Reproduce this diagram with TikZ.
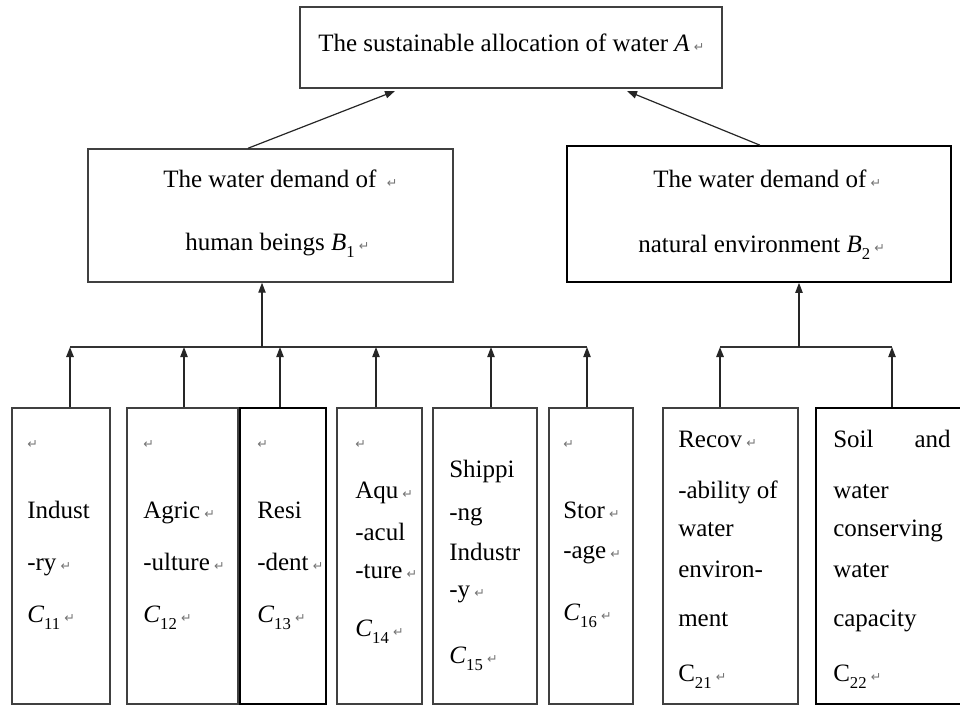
\documentclass[tikz,border=0pt]{standalone}
\usepackage{fontspec}
\setmainfont{Liberation Serif}
\newfontfamily\symfont{DejaVu Sans}
\usetikzlibrary{arrows.meta,fit}
\newcommand\rmkb{{\symfont\fontsize{9.5}{9.5}\selectfont\color{black!55}↵}}
\newcommand\rmk{\,\rmkb}
\newcommand\sbs[1]{\raisebox{-0.3em}{\fontsize{12.5}{12.5}\selectfont #1}}
\begin{document}
\begin{tikzpicture}[x=0.75pt,y=-0.75pt,
  font=\fontsize{18.75}{22}\selectfont,
  box/.style={draw=black!75,line width=1.1pt,inner sep=0pt},
  boxd/.style={draw=black,line width=1.2pt,inner sep=0pt},
  txt/.style={anchor=base west,inner sep=0pt},
  arr/.style={line width=0.9pt,draw=black!85,-{Triangle[length=7.5pt,width=5.5pt]}},
  arrk/.style={arr,line width=1.4pt},
  bus/.style={line width=0.9pt,draw=black!80}]
\useasboundingbox (0,0) rectangle (960,706);
\clip (0,0) rectangle (960,706);
% boxes
\node[box,fit={(300,7) (722,88)}] (A) {};
\node[box,fit={(88,149) (453,282)}] (B1) {};
\node[boxd,fit={(567,146) (951,282)}] (B2) {};
\node[box,fit={(12,408) (110,704)}] (C11) {};
\node[box,fit={(127,408) (238,704)}] (C12) {};
\node[boxd,fit={(240,408) (326,704)}] (C13) {};
\node[box,fit={(337,408) (422,704)}] (C14) {};
\node[box,fit={(433,408) (537,704)}] (C15) {};
\node[box,fit={(549,408) (633,704)}] (C16) {};
\node[box,fit={(663,408) (798,704)}] (C21) {};
\node[boxd,fit={(816,408) (968,704)}] (C22) {};
% texts
\node[txt] (At) at (318,52) {The sustainable allocation of water \textit{A}\rmk};
\node[txt] (B1a) at (163,188) {The water demand of \rmk};
\node[txt] (B1b) at (185,250) {human beings \textit{B}\sbs{1}\rmk};
\node[txt] (B2a) at (653,188) {The water demand of\rmk};
\node[txt] (B2b) at (638,252) {natural environment \textit{B}\sbs{2}\rmk};
% C11
\node[txt] (c11a) at (27,448) {\rmkb};
\node[txt] (c11b) at (27,518) {Indust};
\node[txt] (c11c) at (27,570) {-ry\rmk};
\node[txt] (c11d) at (27,622) {\textit{C}\sbs{11}\rmk};
% C12
\node[txt] (c12a) at (143,448) {\rmkb};
\node[txt] (c12b) at (143,518) {Agric\rmk};
\node[txt] (c12c) at (143,570) {-ulture\rmk};
\node[txt] (c12d) at (143,622) {\textit{C}\sbs{12}\rmk};
% C13
\node[txt] (c13a) at (257,448) {\rmkb};
\node[txt] (c13b) at (257,518) {Resi};
\node[txt] (c13c) at (257,570) {-dent\rmk};
\node[txt] (c13d) at (257,622) {\textit{C}\sbs{13}\rmk};
% C14
\node[txt] (c14a) at (355,448) {\rmkb};
\node[txt] (c14b) at (355,498) {Aqu\rmk};
\node[txt] (c14c) at (355,540) {-acul};
\node[txt] (c14d) at (355,578) {-ture\rmk};
\node[txt] (c14e) at (355,636) {\textit{C}\sbs{14}\rmk};
% C15
\node[txt] (c15a) at (449,477) {Shippi};
\node[txt] (c15b) at (449,520) {-ng};
\node[txt] (c15c) at (449,560) {Industr};
\node[txt] (c15d) at (449,597) {-y\rmk};
\node[txt] (c15e) at (449,663) {\textit{C}\sbs{15}\rmk};
% C16
\node[txt] (c16a) at (563,448) {\rmkb};
\node[txt] (c16b) at (563,518) {Stor\rmk};
\node[txt] (c16c) at (563,558) {-age\rmk};
\node[txt] (c16d) at (563,620) {\textit{C}\sbs{16}\rmk};
% C21
\node[txt] (c21a) at (678,447) {Recov\rmk};
\node[txt] (c21b) at (678,498) {-ability of};
\node[txt] (c21c) at (678,536) {water};
\node[txt] (c21d) at (678,577) {environ-};
\node[txt] (c21e) at (678,626) {ment};
\node[txt] (c21f) at (678,681) {C\sbs{21}\rmk};
% C22
\node[txt] (c22a) at (833,447) {\hbox to 88pt{Soil\hfill and}};
\node[txt] (c22b) at (833,498) {water};
\node[txt] (c22c) at (833,536) {conserving};
\node[txt] (c22d) at (833,577) {water};
\node[txt] (c22e) at (833,626) {capacity};
\node[txt] (c22f) at (833,681) {C\sbs{22}\rmk};
% joints
\coordinate (j11) at (70,347);
\coordinate (j12) at (184,347);
\coordinate (j13) at (280,347);
\coordinate (j14) at (376,347);
\coordinate (j15) at (491,347);
\coordinate (j16) at (587,347);
\coordinate (jB1) at (262,347);
\coordinate (j21) at (720,347);
\coordinate (j22) at (892,347);
\coordinate (jB2) at (799,347);
\coordinate (s1) at (248,0);
\coordinate (s2) at (760,0);
\coordinate (tA1) at (395,91);
\coordinate (tA2) at (627,91);
% connectors
\draw[bus] (j11) -- (j16);
\draw[bus] (j21) -- (j22);
\draw[arrk] (C11.north -| j11) -- (j11);
\draw[arr] (C12.north -| j12) -- (j12);
\draw[arr] (C13.north -| j13) -- (j13);
\draw[arr] (C14.north -| j14) -- (j14);
\draw[arr] (C15.north -| j15) -- (j15);
\draw[arr] (C16.north -| j16) -- (j16);
\draw[arrk] (C21.north -| j21) -- (j21);
\draw[arr] (C22.north -| j22) -- (j22);
\draw[arr] (jB1) -- (B1.south -| jB1);
\draw[arr] (jB2) -- (B2.south -| jB2);
\draw[arr] (B1.north -| s1) -- (tA1);
\draw[arr] (B2.north -| s2) -- (tA2);
\end{tikzpicture}
\end{document}
